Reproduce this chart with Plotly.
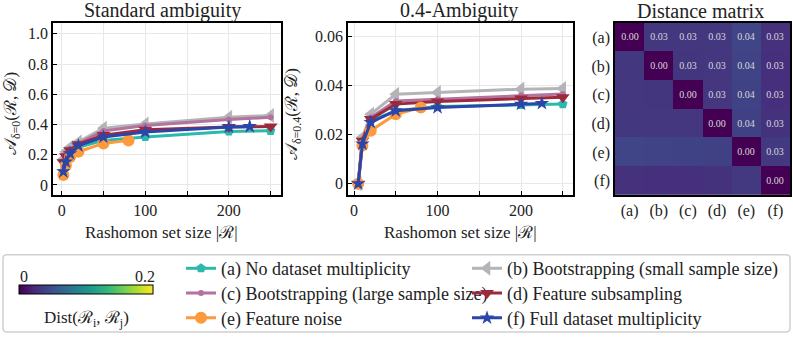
import plotly.graph_objects as go

W, H = 793, 337

# ---------------- data ----------------
labels = ["(a) No dataset multiplicity", "(b) Bootstrapping (small sample size)",
          "(c) Bootstrapping (large sample size)", "(d) Feature subsampling",
          "(e) Feature noise", "(f) Full dataset multiplicity"]

# Standard ambiguity (delta = 0)
x_std = [2, 5, 10, 20, 50, 100, 200, 250]
x_std_noise = [2, 5, 10, 20, 50, 80]
x_std_full = [2, 5, 10, 20, 50, 100, 200, 225]
std_a = [0.09, 0.15, 0.21, 0.25, 0.295, 0.318, 0.354, 0.358]
std_b = [0.17, 0.22, 0.25, 0.285, 0.376, 0.403, 0.448, 0.46]
std_c = [0.16, 0.21, 0.24, 0.275, 0.357, 0.394, 0.433, 0.448]
std_d = [0.15, 0.19, 0.23, 0.27, 0.33, 0.365, 0.383, 0.387]
std_e = [0.066, 0.13, 0.185, 0.22, 0.275, 0.295]
std_f = [0.088, 0.153, 0.208, 0.26, 0.317, 0.35, 0.383, 0.387]

# 0.4-Ambiguity
x_amb = [5, 10, 20, 50, 100, 200, 250]
x_amb_noise = [5, 10, 20, 50, 80]
x_amb_full = [5, 10, 20, 50, 100, 200, 225]
amb_a = [0.0, 0.017, 0.0256, 0.0297, 0.0314, 0.0321, 0.0324]
amb_b = [0.0, 0.0189, 0.0283, 0.0364, 0.0371, 0.0385, 0.0388]
amb_c = [0.0, 0.018, 0.027, 0.0337, 0.0344, 0.036, 0.0365]
amb_d = [0.0, 0.0175, 0.0263, 0.0324, 0.0335, 0.0347, 0.0352]
amb_e = [0.0, 0.0155, 0.0216, 0.0283, 0.031]
amb_f = [0.0, 0.0162, 0.025, 0.0297, 0.031, 0.0324, 0.0327]

# Distance matrix
mat_labels = ["(a)", "(b)", "(c)", "(d)", "(e)", "(f)"]
dist = [
    [0.000, 0.033, 0.032, 0.033, 0.042, 0.028],
    [0.033, 0.000, 0.031, 0.032, 0.041, 0.027],
    [0.032, 0.031, 0.000, 0.032, 0.040, 0.027],
    [0.033, 0.032, 0.032, 0.000, 0.039, 0.029],
    [0.042, 0.041, 0.040, 0.039, 0.000, 0.034],
    [0.028, 0.027, 0.027, 0.029, 0.034, 0.000],
]

# ---------------- styles ----------------
colors = ["#2cb8ad", "#b4b4b8", "#b3739e", "#9c2a3c", "#fd9a3c", "#2b45a8"]
symbols = ["pentagon", "triangle-left", "circle", "triangle-down", "circle", "star"]
msizes = [10, 13, 6, 12, 12, 11]
legends = ["legend", "legend2", "legend3", "legend4", "legend5", "legend6"]

FONT = "Liberation Serif, Times New Roman, DejaVu Serif, serif"
TXT = "#222222"

fig = go.Figure()

std_sets = [(x_std, std_a), (x_std, std_b), (x_std, std_c), (x_std, std_d),
            (x_std_noise, std_e), (x_std_full, std_f)]
amb_sets = [(x_amb, amb_a), (x_amb, amb_b), (x_amb, amb_c), (x_amb, amb_d),
            (x_amb_noise, amb_e), (x_amb_full, amb_f)]

for i in range(6):
    xs, ys = std_sets[i]
    fig.add_trace(go.Scatter(x=xs, y=ys, mode="lines+markers", name=labels[i],
                             line=dict(color=colors[i], width=3),
                             marker=dict(symbol=symbols[i], size=msizes[i], color=colors[i],
                                         line=dict(width=0)),
                             xaxis="x", yaxis="y", legend=legends[i], showlegend=True))
for i in range(6):
    xs, ys = amb_sets[i]
    fig.add_trace(go.Scatter(x=xs, y=ys, mode="lines+markers", name=labels[i],
                             line=dict(color=colors[i], width=3),
                             marker=dict(symbol=symbols[i], size=msizes[i], color=colors[i],
                                         line=dict(width=0)),
                             xaxis="x2", yaxis="y2", showlegend=False))

text = [[("%.2f" % dist[r][c]) if c >= r else "" for c in range(6)] for r in range(6)]
fig.add_trace(go.Heatmap(
    z=dist, x=mat_labels, y=mat_labels, text=text, texttemplate="%{text}",
    textfont=dict(size=10, color="#d8d8d8", family=FONT),
    colorscale="Viridis", zmin=0, zmax=0.2, xaxis="x3", yaxis="y3", hoverinfo="skip",
    colorbar=dict(orientation="h", x=19 / W, xanchor="left", y=1 - 288 / H, yanchor="top",
                  len=134, lenmode="pixels", thickness=9, thicknessmode="pixels",
                  xpad=0, ypad=0, outlinewidth=1, outlinecolor="black",
                  showticklabels=False, ticks=""),
))


def px_x(p):
    return p / W


def px_y(p):
    return 1 - p / H


ydom = [px_y(197), px_y(23)]
axis_common = dict(showline=True, linecolor="black", linewidth=1.5, mirror=True,
                   ticks="inside", ticklen=4, tickwidth=1.2, tickcolor="black",
                   gridcolor="#e8e8e8", gridwidth=1, zeroline=False,
                   tickfont=dict(family=FONT, size=16, color=TXT))
minor_x = dict(tickvals=[50, 150, 250], ticks="inside", ticklen=4, tickwidth=1.2,
               tickcolor="black", showgrid=True, gridcolor="#e8e8e8", gridwidth=1)

fig.update_layout(
    template="none",
    width=W, height=H, autosize=False,
    margin=dict(l=0, r=0, t=0, b=0),
    paper_bgcolor="white", plot_bgcolor="white",
    font=dict(family=FONT, color=TXT),
    xaxis=dict(domain=[px_x(53), px_x(281)], range=[-10.4, 262.4], anchor="y",
               tickvals=[0, 100, 200], ticktext=["0", "100", "200"], minor=minor_x,
               **axis_common),
    yaxis=dict(domain=ydom, range=[-0.068, 1.073], anchor="x",
               tickvals=[0, 0.2, 0.4, 0.6, 0.8, 1.0],
               ticktext=["0", "0.2", "0.4", "0.6", "0.8", "1.0"], **axis_common),
    xaxis2=dict(domain=[px_x(348), px_x(573)], range=[-7.25, 262.25], anchor="y2",
                tickvals=[0, 100, 200], ticktext=["0", "100", "200"], minor=minor_x,
                **axis_common),
    yaxis2=dict(domain=ydom, range=[-0.0047, 0.0655], anchor="x2",
                tickvals=[0, 0.02, 0.04, 0.06], ticktext=["0", "0.02", "0.04", "0.06"],
                **axis_common),
    xaxis3=dict(domain=[px_x(615), px_x(790)], anchor="y3", showline=True, linecolor="black",
                linewidth=1.5, mirror=True, ticks="", showgrid=False,
                tickfont=dict(family=FONT, size=16, color=TXT)),
    yaxis3=dict(domain=ydom, anchor="x3", autorange="reversed", showline=True,
                linecolor="black", linewidth=1.5, mirror=True, ticks="", showgrid=False,
                tickfont=dict(family=FONT, size=16, color=TXT)),
)

# legends positioned individually (2 columns x 3 rows)
leg_pos = [(181, 271), (467, 271), (181, 296), (467, 296), (181, 321), (467, 321)]
for name, (lx, ly) in zip(legends, leg_pos):
    fig.update_layout({name: dict(x=px_x(lx), y=px_y(ly), xanchor="left", yanchor="middle",
                                  bgcolor="rgba(0,0,0,0)", borderwidth=0,
                                  font=dict(family=FONT, size=18, color=TXT))})


def note(text, x, y, size, **kw):
    fig.add_annotation(xref="paper", yref="paper", showarrow=False, x=px_x(x), y=px_y(y),
                       text=text, xanchor="center", yanchor="middle",
                       font=dict(family=FONT, size=size, color=TXT), **kw)


note("Standard ambiguity", 162, 11, 20)
note("0.4-Ambiguity", 459, 11, 20)
note("Distance matrix", 700, 11, 20)
note("Rashomon set size |ℛ|", 161, 235, 17)
note("Rashomon set size |ℛ|", 460, 235, 17)
note("𝒜<sub>δ=0</sub>(ℛ, 𝒟)", 12, 115, 17, textangle=-90)
note("𝒜<sub>δ=0.4</sub>(ℛ, 𝒟)", 293, 115, 17, textangle=-90)
note("0", 23.5, 279, 16)
note("0.2", 144.5, 279, 16)
note("Dist(ℛ<sub>i</sub>, ℛ<sub>j</sub>)", 86, 322, 17)

# rounded legend box
x0, x1, y0, y1, r = 3, 790, 257, 335, 4
path = (f"M {px_x(x0 + r)},{px_y(y0)} L {px_x(x1 - r)},{px_y(y0)} "
        f"Q {px_x(x1)},{px_y(y0)} {px_x(x1)},{px_y(y0 + r)} "
        f"L {px_x(x1)},{px_y(y1 - r)} Q {px_x(x1)},{px_y(y1)} {px_x(x1 - r)},{px_y(y1)} "
        f"L {px_x(x0 + r)},{px_y(y1)} Q {px_x(x0)},{px_y(y1)} {px_x(x0)},{px_y(y1 - r)} "
        f"L {px_x(x0)},{px_y(y0 + r)} Q {px_x(x0)},{px_y(y0)} {px_x(x0 + r)},{px_y(y0)} Z")
fig.add_shape(type="path", path=path, xref="paper", yref="paper",
              line=dict(color="#d0d0d0", width=1.5), fillcolor="rgba(0,0,0,0)", layer="below")

fig.write_html("out.html", config={"displayModeBar": False},
               post_script="document.body.style.margin='0px';document.body.style.overflow='hidden';")
